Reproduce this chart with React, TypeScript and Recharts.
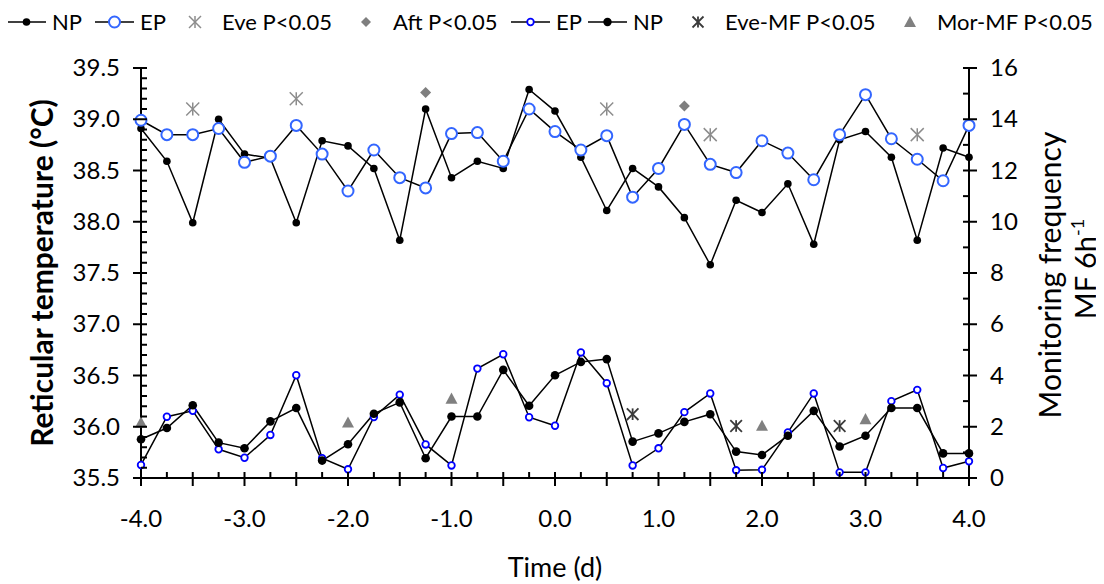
import { ComposedChart, Line, XAxis, YAxis } from 'recharts'

// time axis (days), one point every 6 h
const days = [
  -4, -3.75, -3.5, -3.25, -3, -2.75, -2.5, -2.25, -2, -1.75, -1.5, -1.25, -1, -0.75, -0.5, -0.25,
  0, 0.25, 0.5, 0.75, 1, 1.25, 1.5, 1.75, 2, 2.25, 2.5, 2.75, 3, 3.25, 3.5, 3.75, 4,
]
const xTickLabels = ['-4.0', '-3.0', '-2.0', '-1.0', '0.0', '1.0', '2.0', '3.0', '4.0']
const tempTickLabels = ['35.5', '36.0', '36.5', '37.0', '37.5', '38.0', '38.5', '39.0', '39.5']
const mfTickLabels = ['0', '2', '4', '6', '8', '10', '12', '14', '16']

// reticular temperature (°C)
const npTemp = [
  38.91, 38.59, 37.99, 39.0, 38.66, 38.62, 37.99, 38.79, 38.74, 38.52, 37.82, 39.1, 38.43, 38.59, 38.52, 39.29,
  39.08, 38.63, 38.11, 38.52, 38.34, 38.04, 37.58, 38.21, 38.09, 38.37, 37.78, 38.8, 38.88, 38.63, 37.82, 38.72, 38.63,
]
const epTemp = [
  38.99, 38.85, 38.85, 38.91, 38.58, 38.64, 38.94, 38.66, 38.3, 38.7, 38.43, 38.33, 38.86, 38.87, 38.59, 39.1,
  38.88, 38.7, 38.84, 38.24, 38.52, 38.95, 38.56, 38.48, 38.79, 38.67, 38.41, 38.85, 39.24, 38.81, 38.61, 38.4, 38.94,
]

// monitoring frequency (MF 6h-1)
const epMF = [
  0.51, 2.39, 2.62, 1.12, 0.79, 1.68, 4.01, 0.77, 0.34, 2.38, 3.25, 1.31, 0.49, 4.27, 4.83, 2.37,
  2.04, 4.9, 3.7, 0.49, 1.16, 2.57, 3.3, 0.3, 0.32, 1.78, 3.3, 0.22, 0.22, 3.0, 3.44, 0.39, 0.65,
]
const npMF = [
  1.51, 1.95, 2.84, 1.38, 1.16, 2.21, 2.73, 0.68, 1.32, 2.51, 2.95, 0.77, 2.4, 2.4, 4.22, 2.82,
  4.01, 4.53, 4.64, 1.42, 1.74, 2.19, 2.49, 1.03, 0.9, 1.65, 2.62, 1.23, 1.65, 2.73, 2.73, 0.96, 0.96,
]

// significance markers: [day, value]
const eveTempSig = [[-3.5, 39.1], [-2.5, 39.2], [0.5, 39.1], [1.5, 38.85], [3.5, 38.85]]
const aftTempSig = [[-1.25, 39.26], [1.25, 39.13]]
const eveMFSig = [[0.75, 2.49], [1.75, 2.03], [2.75, 2.03]]
const morMFSig = [[-4, 2.17], [-2, 2.17], [-1, 3.1], [2, 2.04], [3, 2.3]]

const pick = (list: number[][], t: number) => {
  const hit = list.find((p) => p[0] === t)
  return hit ? hit[1] : null
}

const rows = days.map((t, i) => ({
  t,
  npTemp: npTemp[i],
  epTemp: epTemp[i],
  epMF: epMF[i],
  npMF: npMF[i],
  eve: pick(eveTempSig, t),
  aft: pick(aftTempSig, t),
  eveMF: pick(eveMFSig, t),
  mor: pick(morMFSig, t),
}))

const tempTicks = Array.from({ length: 41 }, (_, i) => Math.round((35.5 + i * 0.1) * 10) / 10)
const mfTicks = Array.from({ length: 17 }, (_, i) => i)

const FONT = 'Lato, "Open Sans", sans-serif'
const BLUE = '#3366ff'
const DEEP_BLUE = '#0000ff'
const GREY = '#8c8c8c'
const DARK = '#3a3a3a'

const isHalf = (v: number) => Math.abs(v * 2 - Math.round(v * 2)) < 1e-6

// ---- marker shapes
const Dot = ({ cx, cy, r }: any) => <circle cx={cx} cy={cy} r={r} fill="#000" />
const Ring = ({ cx, cy, r, color, w }: any) => (
  <circle cx={cx} cy={cy} r={r} fill="#fff" stroke={color} strokeWidth={w} />
)
const Star = ({ cx, cy, s, color, w }: any) => (
  <g stroke={color} strokeWidth={w}>
    <line x1={cx} y1={cy - s} x2={cx} y2={cy + s} />
    <line x1={cx - s} y1={cy - s} x2={cx + s} y2={cy + s} />
    <line x1={cx - s} y1={cy + s} x2={cx + s} y2={cy - s} />
  </g>
)
const Diamond = ({ cx, cy, s }: any) => (
  <polygon points={`${cx},${cy - s} ${cx + s},${cy} ${cx},${cy + s} ${cx - s},${cy}`} fill="#7f7f7f" />
)
const Triangle = ({ cx, cy, s }: any) => (
  <polygon points={`${cx},${cy - s} ${cx + s},${cy + s * 0.85} ${cx - s},${cy + s * 0.85}`} fill="#808080" />
)

const dotWith = (draw: (cx: number, cy: number) => any) => (p: any) => {
  if (p.value == null || p.cy == null || Number.isNaN(p.cy)) return <g key={`n-${p.index}`} />
  return <g key={`d-${p.index}`}>{draw(p.cx, p.cy)}</g>
}

// ---- ticks
const XTick = (p: any) => {
  const v = p.payload.value
  const idx = xTickLabels.findIndex((l) => Number(l) === v)
  return (
    <g>
      <line x1={p.x} x2={p.x} y1={p.y - 6} y2={isHalf(v) ? p.y + 8 : p.y} stroke="#000" strokeWidth={2} />
      {idx >= 0 && (
        <text x={p.x} y={p.y + 49} textAnchor="middle" fontSize={24} fill="#000" fontFamily={FONT}>
          {xTickLabels[idx]}
        </text>
      )}
    </g>
  )
}
const TempTick = (p: any) => {
  const v = p.payload.value
  const idx = tempTickLabels.findIndex((l) => Math.abs(Number(l) - v) < 1e-6)
  return (
    <g>
      <line x1={idx >= 0 ? p.x - 8 : p.x} x2={p.x + 6} y1={p.y} y2={p.y} stroke="#000" strokeWidth={2} />
      {idx >= 0 && (
        <text x={p.x - 21} y={p.y + 8} textAnchor="end" fontSize={24} fill="#000" fontFamily={FONT}>
          {tempTickLabels[idx]}
        </text>
      )}
    </g>
  )
}
const MfTick = (p: any) => {
  const v = p.payload.value
  const idx = mfTickLabels.findIndex((l) => Number(l) === v)
  return (
    <g>
      <line x1={p.x - 6} x2={idx >= 0 ? p.x + 8 : p.x} y1={p.y} y2={p.y} stroke="#000" strokeWidth={2} />
      {idx >= 0 && (
        <text x={p.x + 21} y={p.y + 8} textAnchor="start" fontSize={24} fill="#000" fontFamily={FONT}>
          {mfTickLabels[idx]}
        </text>
      )}
    </g>
  )
}

// ---- axis titles
const LeftTitle = (p: any) => {
  const vb = p.viewBox
  const x = vb.x + 45
  const y = vb.y + vb.height / 2
  return (
    <text x={x} y={y} transform={`rotate(-90, ${x}, ${y})`} textAnchor="middle" fontSize={30}
      fontWeight="bold" fill="#000" fontFamily={FONT}>
      Reticular temperature (°C)
    </text>
  )
}
const RightTitle = (p: any) => {
  const vb = p.viewBox
  const y1 = vb.y + vb.height / 2 + 2
  const y2 = vb.y + vb.height / 2 - 4
  const x1 = vb.x + 92
  const x2 = vb.x + 127
  return (
    <g fontFamily={FONT} fill="#000">
      <text x={x1} y={y1} transform={`rotate(-90, ${x1}, ${y1})`} textAnchor="middle" fontSize={30}>
        Monitoring frequency
      </text>
      <text x={x2} y={y2} transform={`rotate(-90, ${x2}, ${y2})`} textAnchor="middle" fontSize={29}>
        MF 6h<tspan dy={-12} fontSize={18}>-1</tspan>
      </text>
    </g>
  )
}
const BottomTitle = (p: any) => {
  const vb = p.viewBox
  return (
    <text x={vb.x + vb.width / 2} y={vb.y + 99} textAnchor="middle" fontSize={27} fill="#000" fontFamily={FONT}>
      Time (d)
    </text>
  )
}

// ---- legend
const legendItems = [
  { label: 'NP', x: 7, kind: 'np' },
  { label: 'EP', x: 95, kind: 'ep' },
  { label: 'Eve P<0.05', x: 182, kind: 'eve' },
  { label: 'Aft P<0.05', x: 353, kind: 'aft' },
  { label: 'EP', x: 511, kind: 'epSmall' },
  { label: 'NP', x: 588, kind: 'npBig' },
  { label: 'Eve-MF P<0.05', x: 685, kind: 'eveMF' },
  { label: 'Mor-MF P<0.05', x: 897, kind: 'mor' },
]

function LegendSymbol({ kind, x }: { kind: string; x: number }) {
  const y = 22
  const seg = (c: any) => (
    <g>
      <line x1={x} x2={x + 39} y1={y} y2={y} stroke="#000" strokeWidth={1.5} />
      {c}
    </g>
  )
  switch (kind) {
    case 'np': return seg(<Dot cx={x + 19.5} cy={y} r={3.8} />)
    case 'ep': return seg(<Ring cx={x + 19.5} cy={y} r={5.5} color={BLUE} w={2} />)
    case 'epSmall': return seg(<Ring cx={x + 19.5} cy={y} r={3.3} color={DEEP_BLUE} w={1.8} />)
    case 'npBig': return seg(<Dot cx={x + 19.5} cy={y} r={4.2} />)
    case 'eve': return <Star cx={x + 13} cy={y} s={6} color={GREY} w={1.5} />
    case 'aft': return <Diamond cx={x + 13} cy={y} s={5} />
    case 'eveMF': return <Star cx={x + 13} cy={y} s={5.5} color={DARK} w={1.8} />
    default: return <Triangle cx={x + 13} cy={y} s={6} />
  }
}

function Legend() {
  return (
    <svg width={1104} height={50} style={{ position: 'absolute', left: -8, top: -8 }}>
      {legendItems.map((it) => {
        const textX = it.kind === 'np' || it.kind === 'ep' || it.kind === 'epSmall' || it.kind === 'npBig'
          ? it.x + 45
          : it.x + 40
        return (
          <g key={it.label + it.x}>
            <LegendSymbol kind={it.kind} x={it.x} />
            <text x={textX} y={30} fontSize={22} fill="#000" fontFamily={FONT}>{it.label}</text>
          </g>
        )
      })}
    </svg>
  )
}

export default function App() {
  return (
    <div style={{ position: 'relative', width: 1096, height: 576, fontFamily: FONT }}>
      <Legend />
      <ComposedChart width={1096} height={576} data={rows} margin={{ top: 60, right: 0, bottom: 0, left: 0 }}>
        <XAxis
          dataKey="t"
          type="number"
          domain={[-4, 4]}
          ticks={days}
          interval={0}
          tickSize={0}
          tickMargin={0}
          tickLine={false}
          tick={<XTick />}
          height={106}
          axisLine={{ stroke: '#000', strokeWidth: 2 }}
          label={BottomTitle}
        />
        <YAxis
          yAxisId="temp"
          domain={[35.5, 39.5]}
          ticks={tempTicks}
          interval={0}
          tickSize={0}
          tickMargin={0}
          tickLine={false}
          tick={<TempTick />}
          width={133}
          axisLine={{ stroke: '#000', strokeWidth: 2 }}
          label={LeftTitle}
        />
        <YAxis
          yAxisId="mf"
          orientation="right"
          domain={[0, 16]}
          ticks={mfTicks}
          interval={0}
          tickSize={0}
          tickMargin={0}
          tickLine={false}
          tick={<MfTick />}
          width={135}
          axisLine={{ stroke: '#000', strokeWidth: 2 }}
          label={RightTitle}
        />

        <Line yAxisId="temp" dataKey="npTemp" stroke="#000" strokeWidth={1.5} isAnimationActive={false}
          activeDot={false} dot={dotWith((cx, cy) => <Dot cx={cx} cy={cy} r={3.8} />)} />
        <Line yAxisId="temp" dataKey="epTemp" stroke="#000" strokeWidth={1.5} isAnimationActive={false}
          activeDot={false} dot={dotWith((cx, cy) => <Ring cx={cx} cy={cy} r={5.5} color={BLUE} w={2} />)} />
        <Line yAxisId="mf" dataKey="epMF" stroke="#000" strokeWidth={1.5} isAnimationActive={false}
          activeDot={false} dot={dotWith((cx, cy) => <Ring cx={cx} cy={cy} r={3.3} color={DEEP_BLUE} w={1.8} />)} />
        <Line yAxisId="mf" dataKey="npMF" stroke="#000" strokeWidth={1.5} isAnimationActive={false}
          activeDot={false} dot={dotWith((cx, cy) => <Dot cx={cx} cy={cy} r={4.3} />)} />

        <Line yAxisId="temp" dataKey="eve" stroke="none" isAnimationActive={false} activeDot={false}
          dot={dotWith((cx, cy) => <Star cx={cx} cy={cy} s={6.5} color={GREY} w={1.5} />)} />
        <Line yAxisId="temp" dataKey="aft" stroke="none" isAnimationActive={false} activeDot={false}
          dot={dotWith((cx, cy) => <Diamond cx={cx} cy={cy} s={5.5} />)} />
        <Line yAxisId="mf" dataKey="eveMF" stroke="none" isAnimationActive={false} activeDot={false}
          dot={dotWith((cx, cy) => <Star cx={cx} cy={cy} s={5.8} color={DARK} w={1.8} />)} />
        <Line yAxisId="mf" dataKey="mor" stroke="none" isAnimationActive={false} activeDot={false}
          dot={dotWith((cx, cy) => <Triangle cx={cx} cy={cy} s={6} />)} />
      </ComposedChart>
    </div>
  )
}
